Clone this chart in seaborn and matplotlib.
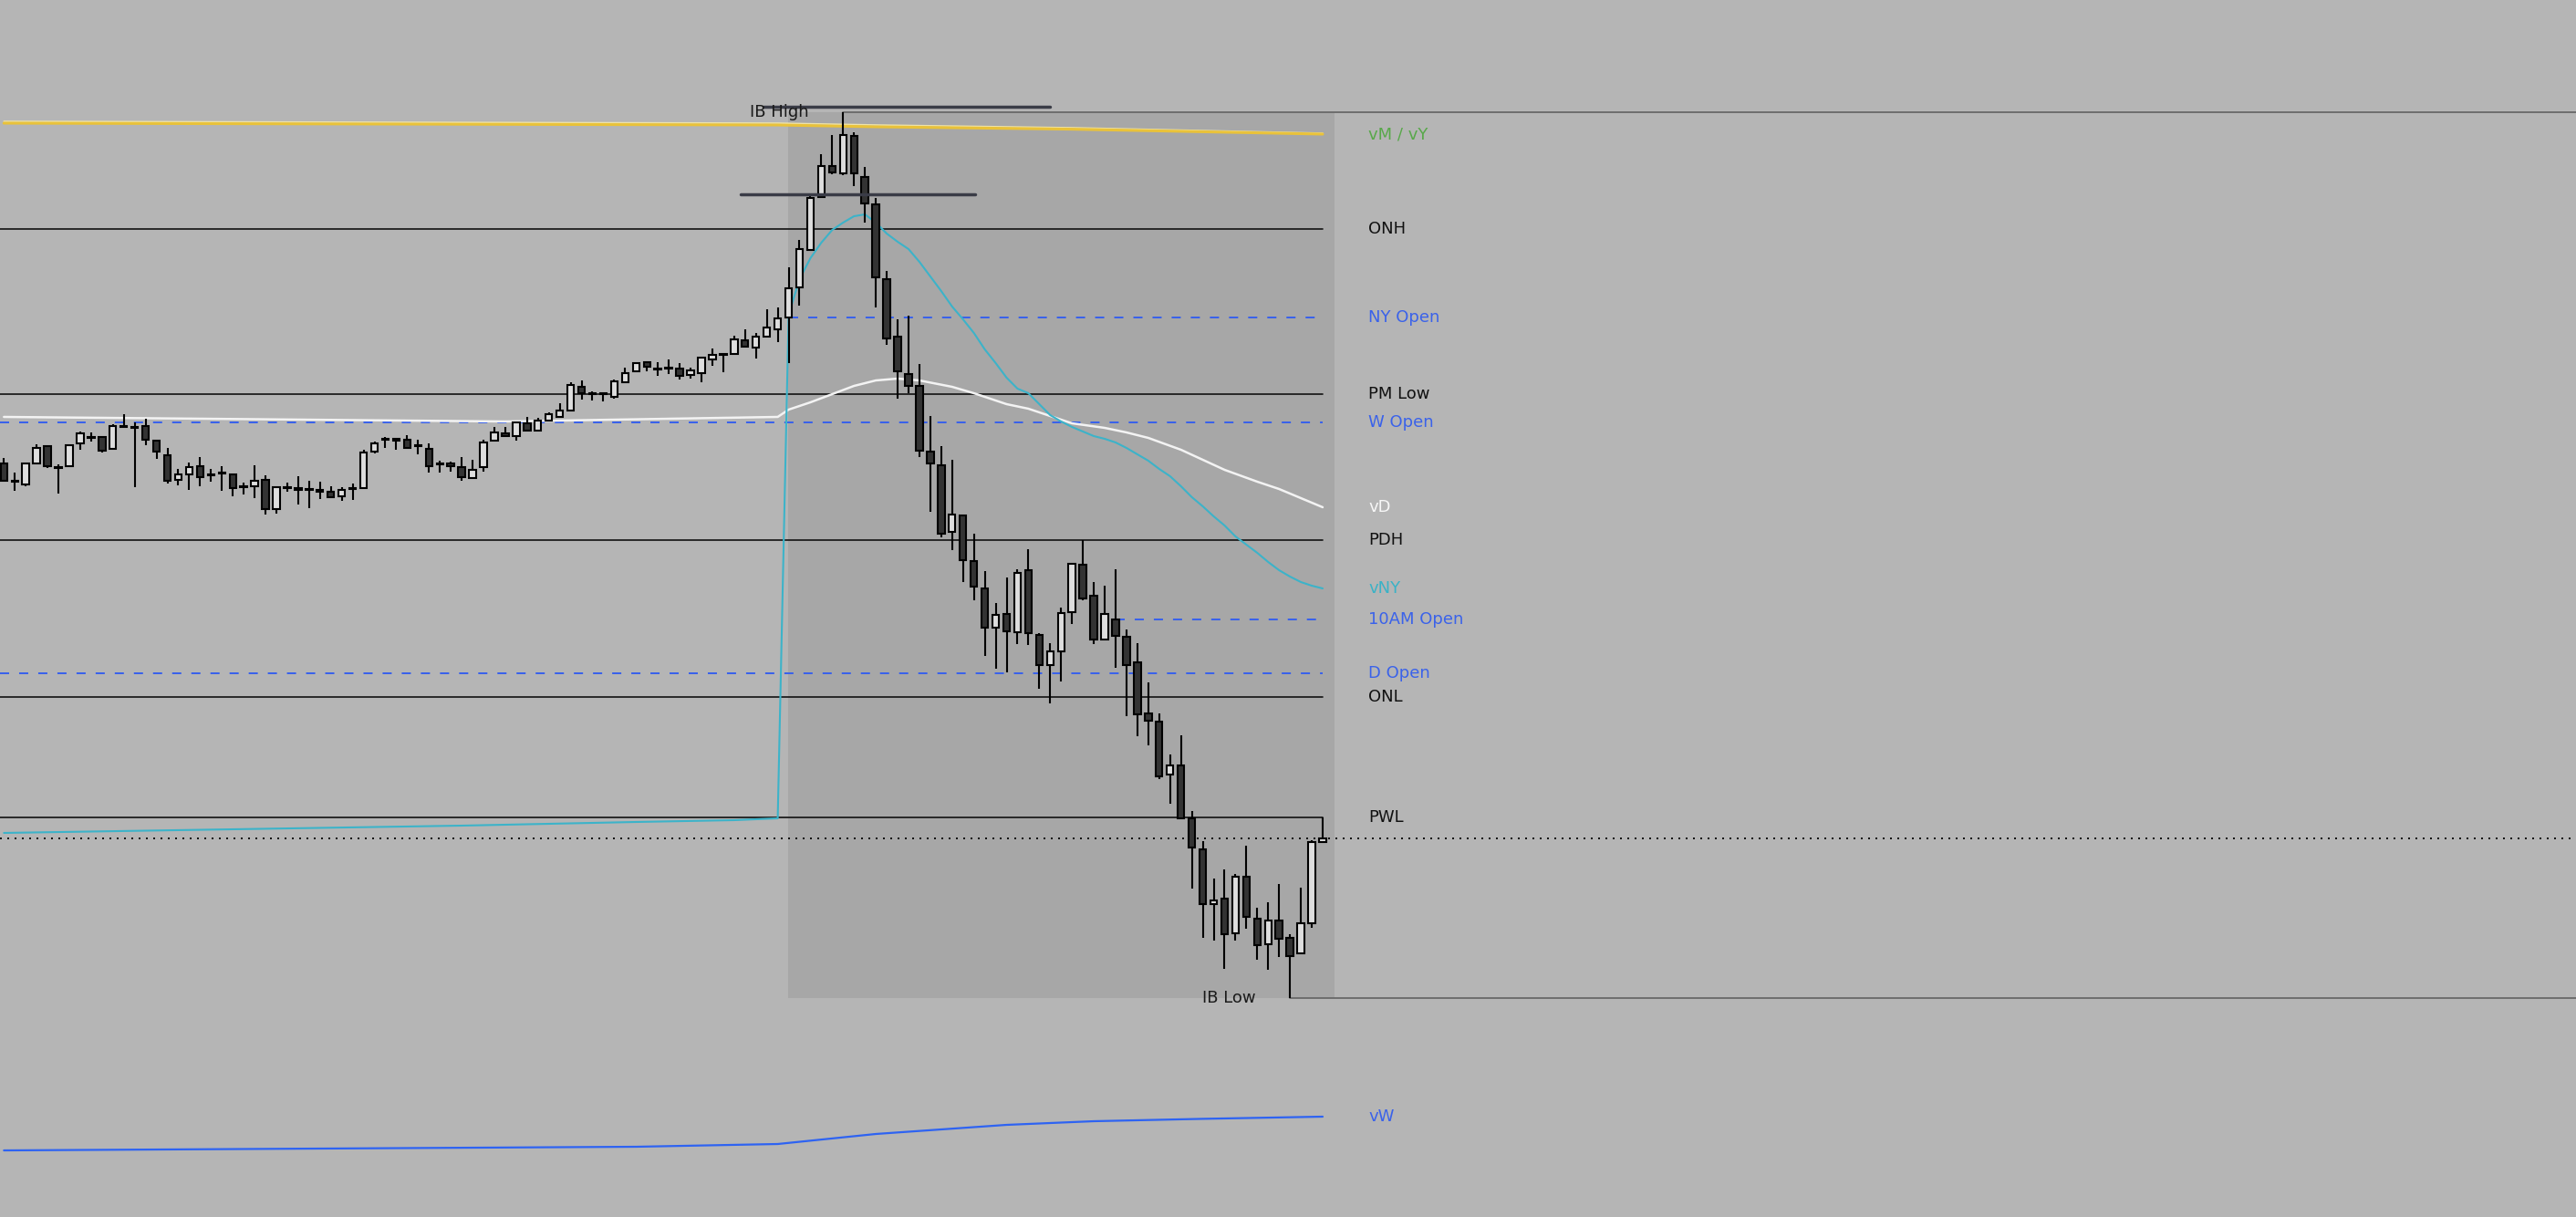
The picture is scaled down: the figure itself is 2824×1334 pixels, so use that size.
import numpy as np
import pandas as pd
import matplotlib
matplotlib.use("Agg")
import matplotlib.pyplot as plt
import seaborn as sns

# 1-minute style candles (bar index 0..121), prices
opens = [20873.0, 20868.0, 20867.25, 20873.0, 20877.75, 20872.0, 20872.25, 20878.5, 20880.25, 20880.25,
         20877.0, 20883.0, 20883.0, 20883.25, 20879.25, 20875.25, 20868.5, 20870.0, 20872.25, 20870.0,
         20870.5, 20870.0, 20866.75, 20866.75, 20868.5, 20860.5, 20866.5, 20866.25, 20866.0, 20865.75,
         20865.25, 20864.0, 20866.25, 20866.25, 20876.25, 20879.75, 20879.75, 20879.5, 20878.0, 20877.0,
         20873.0, 20873.0, 20872.0, 20869.0, 20872.0, 20879.25, 20881.25, 20880.5, 20884.0, 20882.0,
         20884.75, 20885.75, 20887.5, 20894.0, 20892.25, 20892.25, 20891.25, 20895.25, 20898.25, 20900.75,
         20899.0, 20899.25, 20899.0, 20897.25, 20897.75, 20901.5, 20903.0, 20903.0, 20906.75, 20904.75,
         20907.75, 20909.75, 20913.0, 20921.25, 20931.5, 20946.0, 20954.5, 20952.5, 20962.75, 20951.5,
         20944.0, 20923.5, 20907.75, 20897.5, 20894.25, 20876.25, 20872.5, 20854.25, 20858.75, 20846.25,
         20838.75, 20828.0, 20831.75, 20826.75, 20843.75, 20826.0, 20817.75, 20821.5, 20832.25, 20845.25,
         20836.75, 20824.75, 20830.25, 20825.5, 20818.5, 20804.5, 20802.25, 20787.75, 20790.25, 20775.75,
         20767.25, 20752.25, 20753.75, 20744.25, 20759.75, 20748.25, 20741.25, 20747.75, 20743.0, 20738.75,
         20747.0, 20769.25]
highs = [20874.5, 20870.5, 20873.25, 20878.25, 20877.75, 20872.75, 20878.25, 20881.75, 20881.5, 20880.5,
         20883.75, 20886.5, 20884.25, 20885.25, 20879.5, 20877.25, 20871.5, 20873.25, 20874.75, 20871.5,
         20872.25, 20870.0, 20867.75, 20872.5, 20869.75, 20866.75, 20867.75, 20869.5, 20868.25, 20868.0,
         20866.75, 20866.5, 20867.5, 20876.75, 20879.0, 20880.25, 20880.0, 20880.75, 20879.5, 20878.5,
         20873.75, 20873.5, 20874.75, 20874.0, 20879.5, 20883.0, 20883.0, 20884.5, 20885.75, 20885.5,
         20887.0, 20889.5, 20895.25, 20895.75, 20892.75, 20892.5, 20896.0, 20899.25, 20900.75, 20901.0,
         20900.75, 20901.5, 20900.5, 20899.25, 20902.25, 20904.5, 20903.0, 20908.0, 20909.75, 20908.75,
         20915.25, 20915.75, 20926.75, 20934.25, 20946.75, 20957.75, 20963.0, 20969.25, 20963.75, 20954.25,
         20945.75, 20925.75, 20912.5, 20913.5, 20900.25, 20886.0, 20877.75, 20874.0, 20859.0, 20853.75,
         20843.5, 20834.75, 20841.75, 20844.0, 20849.5, 20826.5, 20823.75, 20833.5, 20845.75, 20852.0,
         20840.5, 20839.5, 20844.0, 20827.5, 20823.75, 20813.0, 20804.5, 20793.25, 20798.5, 20777.75,
         20769.5, 20759.25, 20761.75, 20760.5, 20768.25, 20751.25, 20752.75, 20757.75, 20744.0, 20756.75,
         20769.75, 20776.0]
lows = [20868.0, 20865.5, 20866.75, 20872.75, 20871.75, 20864.75, 20872.0, 20876.75, 20879.0, 20876.0,
        20876.75, 20882.75, 20866.5, 20878.0, 20874.25, 20867.5, 20867.0, 20865.75, 20866.75, 20868.0,
        20865.5, 20864.0, 20864.5, 20863.5, 20859.0, 20859.25, 20865.25, 20861.75, 20860.75, 20863.25,
        20863.5, 20862.75, 20863.0, 20866.0, 20875.75, 20877.25, 20876.75, 20877.0, 20875.5, 20870.5,
        20870.5, 20870.75, 20868.25, 20868.75, 20870.75, 20879.0, 20880.25, 20879.25, 20881.75, 20881.75,
        20884.5, 20885.5, 20887.25, 20890.5, 20890.25, 20890.0, 20890.75, 20895.0, 20898.0, 20898.25,
        20897.0, 20897.5, 20896.0, 20896.25, 20895.25, 20899.75, 20898.0, 20902.75, 20904.75, 20901.75,
        20907.5, 20906.25, 20900.5, 20916.25, 20931.25, 20945.75, 20952.25, 20952.0, 20949.0, 20939.0,
        20915.75, 20905.5, 20890.75, 20892.25, 20874.75, 20859.75, 20852.75, 20849.25, 20840.5, 20835.5,
        20820.25, 20816.75, 20815.75, 20823.5, 20823.25, 20811.25, 20807.25, 20813.25, 20829.0, 20835.5,
        20823.5, 20824.5, 20817.0, 20803.75, 20798.25, 20795.75, 20786.5, 20779.75, 20775.5, 20756.5,
        20743.0, 20742.25, 20734.5, 20742.25, 20745.5, 20737.0, 20734.25, 20737.75, 20726.5, 20738.5,
        20745.75, 20769.0]
closes = [20868.25, 20868.25, 20873.0, 20877.25, 20872.25, 20871.75, 20878.0, 20881.25, 20880.0, 20876.5,
          20883.25, 20883.25, 20882.75, 20879.5, 20876.25, 20868.25, 20870.0, 20872.0, 20869.25, 20869.75,
          20870.25, 20866.25, 20866.5, 20868.25, 20860.5, 20866.5, 20866.25, 20865.75, 20865.75, 20865.25,
          20863.75, 20865.75, 20866.0, 20876.0, 20878.5, 20879.5, 20879.25, 20877.25, 20877.75, 20872.25,
          20872.75, 20872.25, 20869.25, 20871.25, 20878.75, 20881.5, 20880.5, 20884.25, 20882.0, 20884.75,
          20886.5, 20887.5, 20894.5, 20892.25, 20892.0, 20892.0, 20895.5, 20897.75, 20900.5, 20899.5,
          20898.75, 20899.0, 20897.0, 20898.5, 20902.0, 20902.75, 20902.75, 20907.0, 20905.0, 20907.75,
          20910.25, 20912.75, 20921.0, 20931.75, 20945.75, 20954.5, 20952.75, 20963.0, 20952.5, 20944.25,
          20924.0, 20907.25, 20898.25, 20894.25, 20876.5, 20873.0, 20853.75, 20859.0, 20846.5, 20839.25,
          20828.0, 20831.5, 20827.0, 20843.0, 20826.5, 20817.75, 20821.5, 20832.0, 20845.5, 20836.0,
          20824.75, 20831.75, 20825.75, 20817.75, 20804.25, 20802.5, 20787.25, 20790.25, 20775.75, 20767.75,
          20752.25, 20753.25, 20744.0, 20759.75, 20748.75, 20741.0, 20747.75, 20742.75, 20738.0, 20747.0,
          20769.25, 20770.25]

# key levels
level_names = ["ONH", "PM Low", "PDH", "ONL", "PWL"]
level_prices = [20937.25, 20892.0, 20852.0, 20809.0, 20776.0]
open_names = ["NY Open", "W Open", "10AM Open", "D Open"]
open_prices = [20913.0, 20884.25, 20830.25, 20815.5]
open_from = [72, None, 102, None]

# initial balance
ib_first, ib_last = 72, 121
ib_high, ib_low = 20969.25, 20726.5
ib_high_bar, ib_low_bar = 77, 118
ib_marks_from = [69.7, 67.6]
ib_marks_to = [96.0, 89.1]
ib_marks_price = [20970.75, 20946.75]

# vwap style curves (bar index, price)
vm_idx = [0, 71, 80, 98, 121]
vm = [20966.25, 20965.75, 20965.25, 20964.6, 20963.25]
vy = [20966.75, 20966.25, 20965.75, 20965.0, 20963.5]

vd_idx = [0, 46, 71, 72, 74, 76, 78, 80, 82, 84, 87, 89, 92, 94, 96, 98, 101, 103, 105, 108,
          110, 112, 115, 117, 119, 121]
vd = [20885.75, 20884.5, 20885.75, 20887.75, 20889.75, 20892.0, 20894.25, 20895.75, 20896.25, 20895.75,
      20894.0, 20892.25, 20889.25, 20888.0, 20886.0, 20884.0, 20882.75, 20881.5, 20880.0, 20876.75,
      20874.0, 20871.25, 20868.0, 20866.0, 20863.5, 20861.0]

vny_idx = [0, 42, 58, 67, 71] + list(range(72, 122))
vny = [20771.75, 20773.75, 20774.75, 20775.25, 20775.75,
       20913.75, 20923.5, 20929.25, 20933.5, 20937.0, 20939.0, 20940.75, 20941.25, 20939.0, 20936.0,
       20933.75, 20931.75, 20928.25, 20924.25, 20920.25, 20916.0, 20912.5, 20908.75, 20904.25, 20900.5,
       20896.5, 20893.5, 20892.25, 20889.25, 20886.25, 20884.5, 20883.0, 20881.75, 20880.5, 20879.75,
       20878.75, 20877.25, 20875.5, 20873.75, 20871.5, 20869.5, 20866.75, 20863.75, 20861.25, 20858.5,
       20856.0, 20853.0, 20850.75, 20848.5, 20846.0, 20843.75, 20842.0, 20840.5, 20839.5, 20838.75]

vw_idx = [0, 58, 71, 80, 86, 92, 100, 110, 121]
vw = [20684.75, 20685.75, 20686.5, 20689.25, 20690.5, 20691.75, 20692.75, 20693.4, 20694.0]

BG = "#b5b5b5"
BLUE = "#3a62ea"
sns.set_theme(style="white", rc={"axes.facecolor": BG, "figure.facecolor": BG})
plt.rcParams["font.family"] = ["DejaVu Sans"]
plt.rcParams["lines.scale_dashes"] = False

fig = plt.figure(figsize=(28.24, 13.34), dpi=100)
ax = fig.add_axes([0, 0, 1, 1])
ax.set_facecolor(BG)
xmin, xmax = -0.36, 236.0
ax.set_xlim(xmin, xmax)
ax.set_ylim(20666.5, 21000.0)

df = pd.DataFrame({"o": opens, "h": highs, "l": lows, "c": closes})
df["i"] = np.arange(len(df))
last = len(df) - 1

# IB shaded box
ax.fill_between([ib_first - 0.05, ib_last + 1.05], ib_low, ib_high, color="#a7a7a7", lw=0, zorder=0)
ax.plot([ib_high_bar, xmax], [ib_high, ib_high], color="#686868", lw=1.3, zorder=1)
ax.plot([ib_low_bar, xmax], [ib_low, ib_low], color="#686868", lw=1.3, zorder=1)
for a, b, p in zip(ib_marks_from, ib_marks_to, ib_marks_price):
    ax.plot([a, b], [p, p], color="#3a3c47", lw=2.5, solid_capstyle="round", zorder=5)

# levels
for p in level_prices:
    ax.plot([xmin, last], [p, p], color="#111111", lw=1.2, zorder=1)
for p, s in zip(open_prices, open_from):
    x0 = xmin if s is None else s
    ax.plot([x0, last], [p, p], color=BLUE, lw=1.44, dashes=(7.2, 7.9), zorder=1)

# last price
ax.plot([xmin, xmax], [closes[-1], closes[-1]], color="#111111", lw=1.44,
        dashes=(1.44, 4.32), dash_capstyle="butt", zorder=1)

# curves
sns.lineplot(x=vm_idx, y=vy, ax=ax, color="#efe3a8", linewidth=1.2, zorder=2)
sns.lineplot(x=vm_idx, y=vm, ax=ax, color="#e9c23a", linewidth=2.2, zorder=2)
sns.lineplot(x=vd_idx, y=vd, ax=ax, color="#f3f3f3", linewidth=1.8, zorder=2)
sns.lineplot(x=vny_idx, y=vny, ax=ax, color="#3cb3c9", linewidth=1.5, zorder=2)
sns.lineplot(x=vw_idx, y=vw, ax=ax, color="#2e63f2", linewidth=1.6, zorder=2)

# candles
up = df["c"] >= df["o"]
ax.vlines(df["i"], df["l"], df["h"], color="#000000", lw=1.5, zorder=3)
body_lo = np.minimum(df["o"], df["c"])
body_h = np.maximum((df["c"] - df["o"]).abs(), 0.3)
ax.bar(df["i"], body_h, bottom=body_lo, width=0.62,
       color=np.where(up, "#dedede", "#333333"), edgecolor="#000000", linewidth=1.5, zorder=4)

# labels
lx = 125.2
fs = 13
for n, p in zip(level_names, level_prices):
    ax.text(lx, p, n, color="#111111", fontsize=fs, va="center", ha="left")
for n, p in zip(open_names, open_prices):
    ax.text(lx, p, n, color=BLUE, fontsize=fs, va="center", ha="left")
ax.text(lx, vm[-1], "vM / vY", color="#58a84a", fontsize=fs, va="center", ha="left")
ax.text(lx, vd[-1], "vD", color="#f7f7f7", fontsize=fs, va="center", ha="left")
ax.text(lx, vny[-1], "vNY", color="#3ab2c6", fontsize=fs, va="center", ha="left")
ax.text(lx, vw[-1], "vW", color="#3a62ea", fontsize=fs, va="center", ha="left")
ax.text(71.15, ib_high, "IB High", color="#1a1a1a", fontsize=fs, va="center", ha="center", zorder=6)
ax.text(112.4, ib_low, "IB Low", color="#1a1a1a", fontsize=fs, va="center", ha="center", zorder=6)

ax.set_xlim(xmin, xmax)
ax.set_ylim(20666.5, 21000.0)
ax.set_axis_off()
fig.savefig("out.png", dpi=100, facecolor=BG)
